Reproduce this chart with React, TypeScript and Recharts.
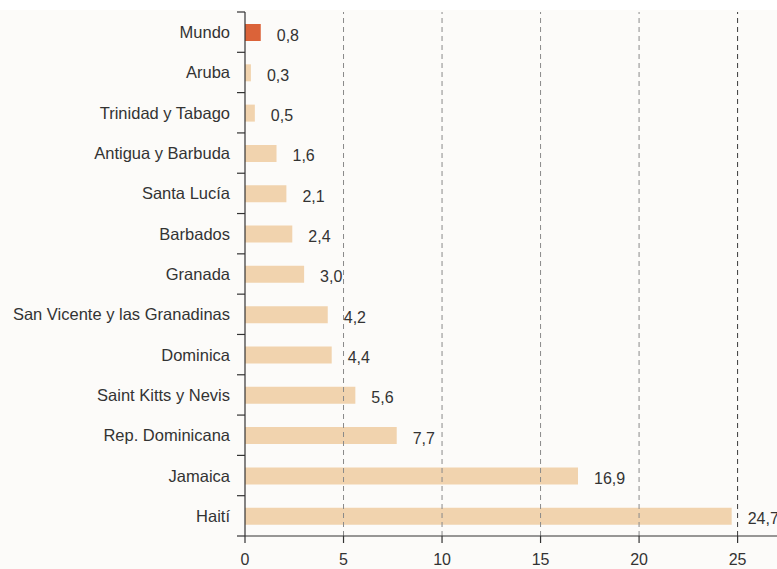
import React from 'react';
import { BarChart, Bar, XAxis, YAxis, ReferenceLine, LabelList, Cell } from 'recharts';

const categories = [
  'Mundo', 'Aruba', 'Trinidad y Tabago', 'Antigua y Barbuda', 'Santa Lucía', 'Barbados', 'Granada',
  'San Vicente y las Granadinas', 'Dominica', 'Saint Kitts y Nevis', 'Rep. Dominicana', 'Jamaica', 'Haití',
];
const values = [0.8, 0.3, 0.5, 1.6, 2.1, 2.4, 3.0, 4.2, 4.4, 5.6, 7.7, 16.9, 24.7];
const xTicks = [0, 5, 10, 15, 20, 25];
const gridValues = [5, 10, 15, 20, 25];

const data = categories.map((name, i) => ({ name, value: values[i] }));

const FONT = '"Liberation Sans", Arial, sans-serif';
const TEXT = '#333333';
const FS = 16;

const YTick = (props: any) => {
  const { x, y, payload, index } = props;
  const half = payload && typeof payload.offset === 'number' && payload.offset > 0 ? payload.offset : 20;
  const last = index === categories.length - 1;
  return (
    <g>
      <text x={x + 1} y={y} dy={6} textAnchor="end" fill={TEXT} fontSize={16.5} fontFamily={FONT}>
        {payload.value}
      </text>
      <line x1={x + 8} x2={x + 16} y1={y - half} y2={y - half} stroke="#333" strokeWidth={1.2} />
      {last && <line x1={x + 8} x2={x + 16} y1={y + half} y2={y + half} stroke="#333" strokeWidth={1.2} />}
    </g>
  );
};

const ValueLabel = (props: any) => {
  const { x, y, width, height, value } = props;
  return (
    <text x={x + width + 16} y={y + height / 2 + 8} fill={TEXT} fontSize={FS} fontFamily={FONT}>
      {Number(value).toFixed(1).replace('.', ',')}
    </text>
  );
};

export default function App() {
  return (
    <div style={{ position: 'absolute', left: 0, top: 0, width: 777, height: 569, background: '#ffffff' }}>
      <div style={{ position: 'absolute', left: 0, top: 10, width: 777, height: 559, background: '#fcfbf9' }} />
      <div style={{ position: 'absolute', left: 0, top: 0 }}>
        <BarChart
          width={777}
          height={569}
          data={data}
          layout="vertical"
          margin={{ top: 12, right: 0, bottom: 0, left: 0 }}
        >
          {gridValues.map((v) => (
            <ReferenceLine
              key={v}
              x={v}
              stroke={v === 25 ? '#3a3a3a' : '#8a8a8a'}
              strokeDasharray="5 4"
              strokeWidth={1}
            />
          ))}
          <XAxis
            type="number"
            domain={[0, 27]}
            ticks={xTicks}
            allowDataOverflow
            height={33}
            tickSize={7}
            tickMargin={11}
            axisLine={{ stroke: '#333', strokeWidth: 1.2 }}
            tickLine={{ stroke: '#333', strokeWidth: 1.2 }}
            tick={{ fill: TEXT, fontSize: FS, fontFamily: FONT }}
          />
          <YAxis
            type="category"
            dataKey="name"
            width={245}
            tickSize={8}
            tickMargin={8}
            tickLine={false}
            axisLine={{ stroke: '#333', strokeWidth: 1.2 }}
            tick={<YTick />}
            interval={0}
          />
          <Bar dataKey="value" barSize={17} isAnimationActive={false}>
            {data.map((d, i) => (
              <Cell key={d.name} fill={i === 0 ? '#db6339' : '#f1d3ae'} />
            ))}
            <LabelList dataKey="value" content={<ValueLabel />} />
          </Bar>
        </BarChart>
      </div>
    </div>
  );
}
